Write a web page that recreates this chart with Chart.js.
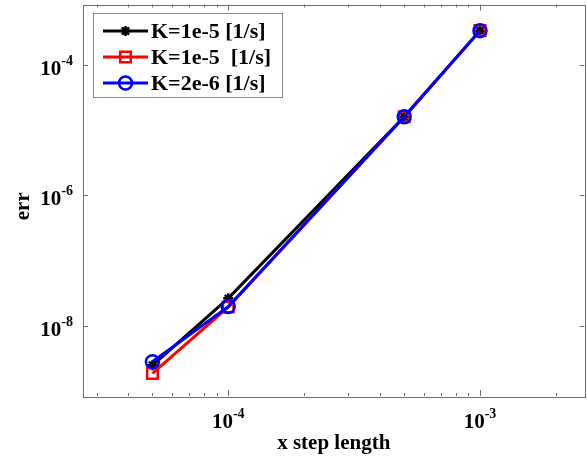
<!DOCTYPE html>
<html>
<head>
<meta charset="utf-8">
<script src="https://cdn.jsdelivr.net/npm/chart.js@4/dist/chart.umd.min.js"></script>
<style>
  html, body { margin: 0; padding: 0; background: #ffffff; }
  canvas { display: block; }
</style>
</head>
<body>
<canvas id="c" width="587" height="460"></canvas>
<script>
// Step lengths and the error measured for each permeability case
const stepLengths = [5e-5, 1e-4, 5e-4, 1e-3];
const errK1e5a = [2.5e-9, 2.65e-8, 1.61e-5, 3.36e-4];
const errK1e5b = [1.88e-9, 1.95e-8, 1.61e-5, 3.36e-4];
const errK2e6 = [2.83e-9, 1.98e-8, 1.61e-5, 3.36e-4];
const seriesLabels = ['K=1e-5 [1/s]', 'K=1e-5  [1/s]', 'K=2e-6 [1/s]'];

// Decade exponents that carry a "10^n" label
const xTickExponents = [-4, -3];
const yTickExponents = [-8, -6, -4];

const xTitle = 'x step length';
const yTitle = 'err';

const FONT = '"Liberation Serif", "Times New Roman", serif';
const AXIS_COLOR = '#6e6e6e';

function toPoints(xs, ys) {
  return xs.map((x, i) => ({ x: x, y: ys[i] }));
}

// Draws "10" with a raised exponent, anchored by alignment
function drawPower(ctx, exp, x, y, align) {
  const base = '10';
  const sup = String(exp);
  ctx.font = 'bold 21px ' + FONT;
  const wb = ctx.measureText(base).width;
  ctx.font = 'bold 14px ' + FONT;
  const ws = ctx.measureText(sup).width;
  const total = wb + ws;
  let left = x;
  if (align === 'center') left = x - total / 2;
  else if (align === 'right') left = x - total;
  ctx.textAlign = 'left';
  ctx.textBaseline = 'alphabetic';
  ctx.fillStyle = '#000';
  ctx.font = 'bold 21px ' + FONT;
  ctx.fillText(base, left, y);
  ctx.font = 'bold 14px ' + FONT;
  ctx.fillText(sup, left + wb, y - 10);
}

const framePlugin = {
  id: 'matlabFrame',
  afterDraw(chart) {
    const ctx = chart.ctx;
    const a = chart.chartArea;
    const xs = chart.scales.x;
    const ys = chart.scales.y;
    ctx.save();
    ctx.strokeStyle = AXIS_COLOR;
    ctx.lineWidth = 1;
    // box
    ctx.strokeRect(Math.round(a.left) + 0.5, Math.round(a.top) + 0.5,
      Math.round(a.right - a.left), Math.round(a.bottom - a.top));

    // x ticks (major + minor), inward on bottom and top
    const d0 = Math.floor(Math.log10(xs.min));
    const d1 = Math.ceil(Math.log10(xs.max));
    ctx.beginPath();
    for (let d = d0; d <= d1; d++) {
      for (let m = 1; m <= 9; m++) {
        const v = m * Math.pow(10, d);
        if (v < xs.min || v > xs.max) continue;
        const px = Math.round(xs.getPixelForValue(v)) + 0.5;
        const len = m === 1 ? 6 : 3;
        ctx.moveTo(px, a.bottom);
        ctx.lineTo(px, a.bottom - len);
        ctx.moveTo(px, a.top);
        ctx.lineTo(px, a.top + len);
      }
    }
    // y ticks at labelled decades, inward on left and right
    yTickExponents.forEach(e => {
      const py = Math.round(ys.getPixelForValue(Math.pow(10, e))) + 0.5;
      ctx.moveTo(a.left, py);
      ctx.lineTo(a.left + 5, py);
      ctx.moveTo(a.right, py);
      ctx.lineTo(a.right - 5, py);
    });
    ctx.stroke();

    // tick labels
    xTickExponents.forEach(e => {
      const px = xs.getPixelForValue(Math.pow(10, e));
      drawPower(ctx, e, px, a.bottom + 32, 'center');
    });
    yTickExponents.forEach(e => {
      const py = ys.getPixelForValue(Math.pow(10, e));
      drawPower(ctx, e, a.left - 10, py + 10, 'right');
    });

    // axis titles
    ctx.fillStyle = '#000';
    ctx.font = 'bold 21px ' + FONT;
    ctx.textAlign = 'center';
    ctx.textBaseline = 'middle';
    ctx.fillText(xTitle, (a.left + a.right) / 2, a.bottom + 48);
    ctx.save();
    ctx.translate(24, (a.top + a.bottom) / 2 + 6);
    ctx.rotate(-Math.PI / 2);
    ctx.fillText(yTitle, 0, 0);
    ctx.restore();

    // legend box
    const lx = 93.5, ly = 13.5, lw = 189, lh = 84;
    ctx.fillStyle = '#ffffff';
    ctx.fillRect(lx, ly, lw, lh);
    ctx.strokeStyle = '#8a8a8a';
    ctx.lineWidth = 1;
    ctx.strokeRect(lx, ly, lw, lh);
    const rows = [31, 57, 83];
    chart.data.datasets.forEach((ds, i) => {
      const y = rows[i];
      ctx.strokeStyle = ds.borderColor;
      ctx.lineWidth = ds.borderWidth;
      ctx.beginPath();
      ctx.moveTo(103, y);
      ctx.lineTo(148, y);
      ctx.stroke();
      ctx.fillStyle = 'rgba(0,0,0,0)';
      ctx.strokeStyle = ds.pointBorderColor;
      ctx.lineWidth = ds.pointBorderWidth;
      Chart.helpers.drawPoint(ctx, {
        pointStyle: ds.pointStyle,
        radius: ds.pointRadius,
        borderWidth: ds.pointBorderWidth,
        rotation: 0
      }, 125.5, y);
      ctx.fillStyle = '#000';
      ctx.font = 'bold 22px ' + FONT;
      ctx.textAlign = 'left';
      ctx.textBaseline = 'middle';
      ctx.fillText(ds.label, 151, y + 1);
    });
    ctx.restore();
  }
};

const common = {
  fill: false,
  tension: 0,
  borderWidth: 3,
  pointBorderWidth: 2.5,
  pointBackgroundColor: 'rgba(0,0,0,0)'
};

new Chart(document.getElementById('c'), {
  type: 'line',
  data: {
    datasets: [
      Object.assign({}, common, {
        label: seriesLabels[0],
        data: toPoints(stepLengths, errK1e5a),
        borderColor: '#000000',
        pointBorderColor: '#000000',
        pointStyle: 'star',
        pointRadius: 5,
        order: 3
      }),
      Object.assign({}, common, {
        label: seriesLabels[1],
        data: toPoints(stepLengths, errK1e5b),
        borderColor: '#ff0000',
        pointBorderColor: '#ff0000',
        pointStyle: 'rect',
        pointRadius: 7.5,
        order: 2
      }),
      Object.assign({}, common, {
        label: seriesLabels[2],
        data: toPoints(stepLengths, errK2e6),
        borderColor: '#0000ff',
        pointBorderColor: '#0000ff',
        pointStyle: 'circle',
        pointRadius: 6.5,
        order: 1
      })
    ]
  },
  options: {
    responsive: false,
    devicePixelRatio: 1,
    animation: false,
    layout: { autoPadding: false, padding: { left: 83, right: 2.5, top: 4.5, bottom: 64 } },
    plugins: { legend: { display: false }, tooltip: { enabled: false } },
    scales: {
      x: { type: 'logarithmic', display: false, min: 2.65e-5, max: 2.6e-3 },
      y: { type: 'logarithmic', display: false, min: 8.45e-10, max: 8.45e-4 }
    }
  },
  plugins: [framePlugin]
});
</script>
</body>
</html>
